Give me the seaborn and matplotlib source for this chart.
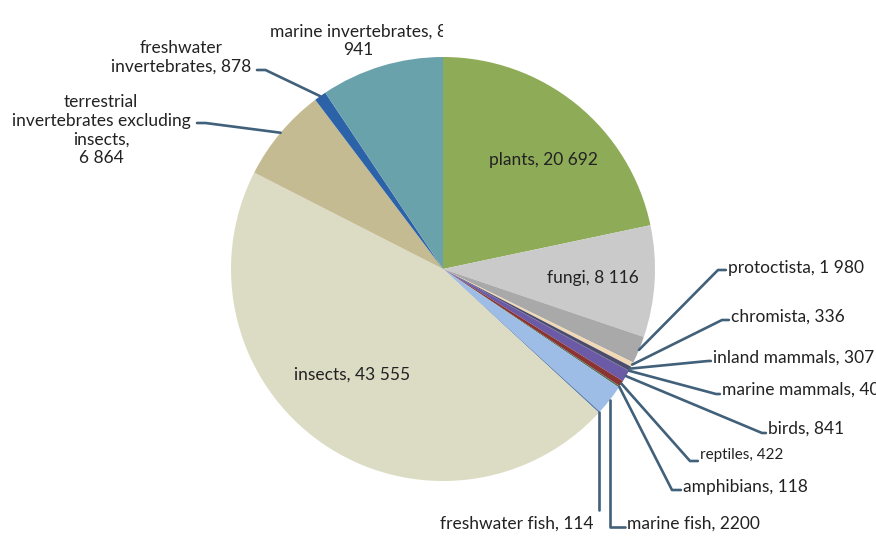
import matplotlib.pyplot as plt
import seaborn as sns
from matplotlib.transforms import Bbox, TransformedBbox
import numpy as np

# ==========================================
# Data: number of species per group (clockwise from 12 o'clock)
# ==========================================
categories = ['plants', 'fungi', 'protoctista', 'chromista', 'inland mammals',
              'marine mammals', 'birds', 'reptiles', 'amphibians', 'marine fish',
              'freshwater fish', 'insects',
              'terrestrial invertebrates excluding insects',
              'freshwater invertebrates', 'marine invertebrates']
species = [20692, 8116, 1980, 336, 307, 40, 841, 422, 118, 2200, 114,
           43555, 6864, 878, 8941]
label_texts = ['plants, 20 692', 'fungi, 8 116', 'protoctista, 1 980',
               'chromista, 336', 'inland mammals, 307', 'marine mammals, 40',
               'birds, 841', 'reptiles, 422', 'amphibians, 118',
               'marine fish, 2200', 'freshwater fish, 114', 'insects, 43 555',
               'terrestrial\ninvertebrates excluding\ninsects,\n6 864',
               'freshwater\ninvertebrates, 878',
               'marine invertebrates, 8\n941']
colors = ['#8eab57', '#cacaca', '#a9a9a9', '#f0d9b4', '#4b4b6e', '#2f2f4f',
          '#6b5aa6', '#8b3434', '#556f55', '#9ebde6', '#5d7fae',
          '#dcdcc4', '#c4bb93', '#2c63a8', '#6aa2ab']

# ==========================================
# Label layout (in reference pixel units)
# ==========================================
CX, CY, R = 443, 269, 212
W, H = 876, 536


def to_data(x, y):
    return (x - CX) / R, (CY - y) / R


# name -> (kind, text position, elbow position)
layout = {
    'plants': ('inside', (543, 160), None),
    'fungi': ('inside', (593, 278), None),
    'insects': ('inside', (352, 375), None),
    'protoctista': ('right', (728, 268), (718, 270)),
    'chromista': ('right', (731, 317), (722, 320)),
    'inland mammals': ('right', (713, 358), (708, 361)),
    'marine mammals': ('right', (722, 390), (716, 394)),
    'birds': ('right', (768, 429), (762, 433)),
    'reptiles': ('right', (700, 455), (690, 461)),
    'amphibians': ('right', (683, 487), (672, 490)),
    'marine fish': ('down_right', (627, 524), (None, 527)),
    'freshwater fish': ('down_left', (594, 524), (None, 510)),
    'terrestrial invertebrates excluding insects': ('left', (101, 130), (197, 123)),
    'freshwater invertebrates': ('left', (181, 57), (257, 70)),
    'marine invertebrates': ('clipped', (358, 41), None),
}

# ==========================================
# Plot
# ==========================================
sns.set_theme(style='white')
plt.rcParams['font.family'] = ['Lato', 'DejaVu Sans']

fig = plt.figure(figsize=(8.76, 5.36), dpi=100)
ax = fig.add_axes([0, 0, 1, 1])

wedges, _ = ax.pie(species, colors=colors, startangle=90, counterclock=False,
                   radius=1, center=(0, 0), wedgeprops=dict(linewidth=0))

ax.set_xlim(-CX / R, (W - CX) / R)
ax.set_ylim(-(H - CY) / R, CY / R)
ax.set_aspect('equal')
ax.axis('off')

text_color = '#222222'
line_color = '#41607a'
fs = 12.5
lw = 1.9

for name, wedge, text in zip(categories, wedges, label_texts):
    kind, tpos, elbow = layout[name]
    mid = np.deg2rad((wedge.theta1 + wedge.theta2) / 2)
    ax_x, ax_y = np.cos(mid), np.sin(mid)
    tx, ty = to_data(*tpos)

    if kind == 'inside':
        ax.text(tx, ty, text, ha='center', va='center', fontsize=fs, color=text_color)
    elif kind == 'right':
        ex, ey = to_data(*elbow)
        ax.plot([ax_x, ex, tx - 0.01], [ax_y, ey, ey], color=line_color, lw=lw)
        ax.text(tx, ty, text, ha='left', va='center', color=text_color,
                fontsize=11 if name == 'reptiles' else fs)
    elif kind == 'down_right':
        _, ey = to_data(0, elbow[1])
        ax.plot([ax_x, ax_x, tx - 0.01], [ax_y, ey, ey], color=line_color, lw=lw)
        ax.text(tx, ty, text, ha='left', va='center', fontsize=fs, color=text_color)
    elif kind == 'down_left':
        _, ey = to_data(0, elbow[1])
        ax.plot([ax_x, ax_x], [ax_y, ey], color=line_color, lw=lw)
        ax.text(tx, ty, text, ha='right', va='center', fontsize=fs, color=text_color)
    elif kind == 'left':
        ex, ey = to_data(*elbow)
        ax.plot([ex, ex + 0.04, ax_x], [ey, ey, ax_y], color=line_color, lw=lw)
        ax.text(tx, ty, text, ha='center', va='center', fontsize=fs,
                color=text_color, linespacing=1.2)
    elif kind == 'clipped':
        t = ax.text(tx, ty, text, ha='center', va='center', fontsize=fs,
                    color=text_color, linespacing=1.2)
        t.set_clip_box(TransformedBbox(Bbox.from_extents(-5, -5, 0, 5), ax.transData))
        t.set_clip_on(True)

fig.savefig('out.png', dpi=100, facecolor='white')
